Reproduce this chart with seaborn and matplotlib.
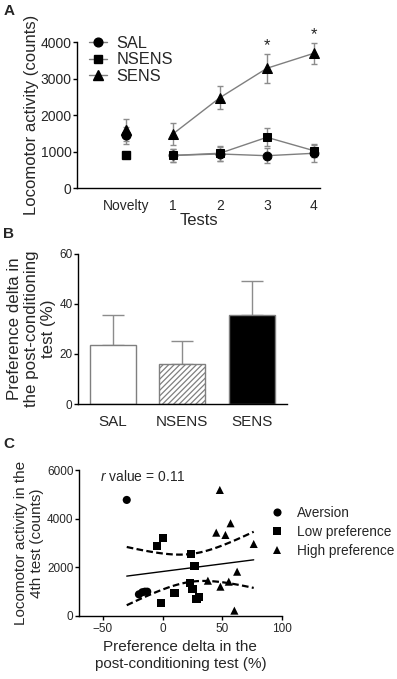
from matplotlib import pyplot as plt
from matplotlib.lines import Line2D
import numpy as np
import pandas as pd
import seaborn as sns

# Panel A: locomotor activity per test (mean and SEM)
tests = ["Novelty", "1", "2", "3", "4"]
sal_mean = [1450, 900, 940, 893, 959]
sal_err = [230, 180, 200, 200, 230]
nsens_mean = [912, 900, 960, 1397, 1030]
nsens_err = [40, 170, 200, 250, 180]
sens_mean = [1595, 1488, 2482, 3288, 3699]
sens_err = [290, 290, 310, 390, 290]
starred = ["3", "4"]

# Panel B: preference delta (mean and SEM)
groups = ["SAL", "NSENS", "SENS"]
pref_mean = [23.5, 16.0, 35.5]
pref_err = [12.0, 9.3, 13.8]

# Panel C: individual animals
aversion_x = [-30, -19.8, -17, -14.8, -12.8]
aversion_y = [4770, 890, 975, 1000, 1000]
low_x = [-5, 0.5, 24, 26.8, 22.8, 25.1, 10, -1.1, 28.5, 30.7]
low_y = [2880, 3220, 2535, 2055, 1370, 1125, 935, 520, 690, 770]
high_x = [48, 57, 45, 52.7, 76.4, 62.5, 38, 55.5, 48.5, 60.2]
high_y = [5180, 3810, 3425, 3330, 2960, 1820, 1450, 1410, 1205, 220]
r_text = "0.11"

sns.set_style("ticks")
plt.rcParams['font.family'] = ['Liberation Sans', 'DejaVu Sans']
plt.rcParams['mathtext.fontset'] = 'custom'
plt.rcParams['mathtext.rm'] = 'Liberation Sans'
plt.rcParams['mathtext.it'] = 'Liberation Sans:italic'
plt.rcParams['hatch.linewidth'] = 0.9
plt.rcParams['axes.linewidth'] = 1.0

fig = plt.figure(figsize=(3.97, 6.79), dpi=100)


def style_axis(ax, xticks=True, xpad=8):
    sns.despine(ax=ax)
    for s in ["left", "bottom"]:
        ax.spines[s].set_color("black")
        ax.spines[s].set_linewidth(1.0)
    ax.tick_params(axis="y", direction="out", length=3, width=1.0, color="black", pad=1)
    if xticks:
        ax.tick_params(axis="x", direction="out", length=3, width=1.0, color="black", pad=2)
    else:
        ax.tick_params(axis="x", length=0, pad=xpad)


# ---- A ----
axA = fig.add_axes([0.194, 0.7227, 0.612, 0.215])
markers = {"SAL": "o", "NSENS": "s", "SENS": "^"}
msizes = {"SAL": 6.3, "NSENS": 5.4, "SENS": 6.7}
series = {"SAL": (sal_mean, sal_err), "NSENS": (nsens_mean, nsens_err), "SENS": (sens_mean, sens_err)}
pos = np.arange(len(tests))
rows = []
for g, (m, e) in series.items():
    for p, t, v in zip(pos, tests, m):
        rows.append({"group": g, "pos": p, "test": t, "value": v})
dfA = pd.DataFrame(rows)

for g, (m, e) in series.items():
    axA.errorbar(pos, m, yerr=e, fmt="none", ecolor="#8c8c8c", elinewidth=1.0, capsize=2.5, capthick=1.0, zorder=1)
for g in series:
    sub = dfA[(dfA.group == g) & (dfA.test != "Novelty")]
    sns.lineplot(data=sub, x="pos", y="value", ax=axA, color="#7f7f7f", linewidth=1.0,
                 marker=markers[g], markersize=msizes[g], markerfacecolor="black",
                 markeredgecolor="black", legend=False, zorder=3)
    nov = dfA[(dfA.group == g) & (dfA.test == "Novelty")]
    axA.plot(nov["pos"], nov["value"], linestyle="none", marker=markers[g], markersize=msizes[g],
             color="black", zorder=3)
for t in starred:
    i = tests.index(t)
    axA.text(pos[i], sens_mean[i] + sens_err[i] + 20, "*", ha="center", va="bottom", fontsize=12, clip_on=False)

axA.set_xlim(-1.04, 4.13)
axA.set_ylim(0, 4000)
axA.set_yticks([0, 1000, 2000, 3000, 4000])
axA.set_xticks(pos)
axA.set_xticklabels(tests, fontsize=10)
axA.tick_params(axis="y", labelsize=10)
axA.set_xlabel("Tests", fontsize=12, labelpad=0)
axA.set_ylabel("Locomotor activity (counts)", fontsize=12, labelpad=1)
style_axis(axA, xticks=False, xpad=8)
handles = [Line2D([], [], color="#7f7f7f", linewidth=1.0, marker=markers[g], markersize=msizes[g],
                  markerfacecolor="black", markeredgecolor="black") for g in series]
axA.legend(handles, list(series), frameon=False, loc="upper left", bbox_to_anchor=(0.01, 1.11),
           fontsize=11.8, handlelength=1.1, handletextpad=0.55, labelspacing=0.08, borderaxespad=0.2)
fig.text(0.008, 0.984, "A", fontsize=11, fontweight="bold", va="center")

# ---- B ----
axB = fig.add_axes([0.1965, 0.405, 0.526, 0.221])
dfB = pd.DataFrame({"group": groups, "pref": pref_mean})
sns.barplot(data=dfB, x="group", y="pref", ax=axB, color="white", width=0.66,
            edgecolor="#7f7f7f", linewidth=1.0, errorbar=None, zorder=2)
fills = ["white", "white", "black"]
for patch, c in zip(axB.patches, fills):
    patch.set_facecolor(c)
axB.patches[1].set_hatch("//////")
axB.errorbar(np.arange(len(groups)), pref_mean, yerr=[np.zeros(len(groups)), pref_err], fmt="none",
             ecolor="#8c8c8c", elinewidth=1.0, capsize=8, capthick=1.0, zorder=1)
axB.set_xlim(-0.5, 2.5)
axB.set_ylim(0, 60)
axB.set_yticks([0, 20, 40, 60])
axB.tick_params(axis="y", labelsize=8.5)
axB.tick_params(axis="x", labelsize=11)
axB.set_xlabel("")
axB.set_ylabel("Preference delta in\nthe post-conditioning\ntest (%)", fontsize=12.2, labelpad=2)
style_axis(axB, xticks=False, xpad=8)
fig.text(0.008, 0.655, "B", fontsize=11, fontweight="bold", va="center")

# ---- C ----
axC = fig.add_axes([0.199, 0.0928, 0.511, 0.215])
dfC = pd.DataFrame({
    "pref": aversion_x + low_x + high_x,
    "loco": aversion_y + low_y + high_y,
    "group": ["Aversion"] * len(aversion_x) + ["Low preference"] * len(low_x) + ["High preference"] * len(high_x),
})
sns.scatterplot(data=dfC, x="pref", y="loco", style="group", ax=axC, color="black",
                markers={"Aversion": "o", "Low preference": "s", "High preference": "^"},
                s=34, edgecolor="black", linewidth=0, zorder=3)

# linear fit with 95% confidence band
xv = dfC["pref"].to_numpy()
yv = dfC["loco"].to_numpy()
n = len(xv)
slope, icpt = np.polyfit(xv, yv, 1)
resid = yv - (slope * xv + icpt)
s_err = np.sqrt(np.sum(resid ** 2) / (n - 2))
xs = np.linspace(xv.min(), xv.max(), 100)
fit = slope * xs + icpt
band = 2.069 * s_err * np.sqrt(1 / n + (xs - xv.mean()) ** 2 / np.sum((xv - xv.mean()) ** 2))
axC.plot(xs, fit, color="black", linewidth=1.0, zorder=2)
axC.plot(xs, fit + band, color="black", linewidth=1.6, linestyle=(0, (3, 1.5)), zorder=2)
axC.plot(xs, fit - band, color="black", linewidth=1.6, linestyle=(0, (3, 1.5)), zorder=2)

axC.set_xlim(-70, 100)
axC.set_ylim(0, 6000)
axC.set_xticks([-50, 0, 50, 100])
axC.set_yticks([0, 2000, 4000, 6000])
axC.tick_params(labelsize=8.5)
axC.set_xlabel("Preference delta in the\npost-conditioning test (%)", fontsize=11, labelpad=4)
axC.set_ylabel("Locomotor activity in the\n4th test (counts)", fontsize=11, labelpad=2)
axC.text(-52, 5750, r"$\it{r}$ value = " + r_text, fontsize=10, va="center", ha="left")
style_axis(axC)
axC.legend(frameon=False, loc="center left", bbox_to_anchor=(0.88, 0.575), fontsize=9.8,
           handletextpad=0.5, labelspacing=0.36, markerscale=1.0, borderaxespad=0)
fig.text(0.008, 0.346, "C", fontsize=11, fontweight="bold", va="center")

fig.savefig("out.png", dpi=100)
